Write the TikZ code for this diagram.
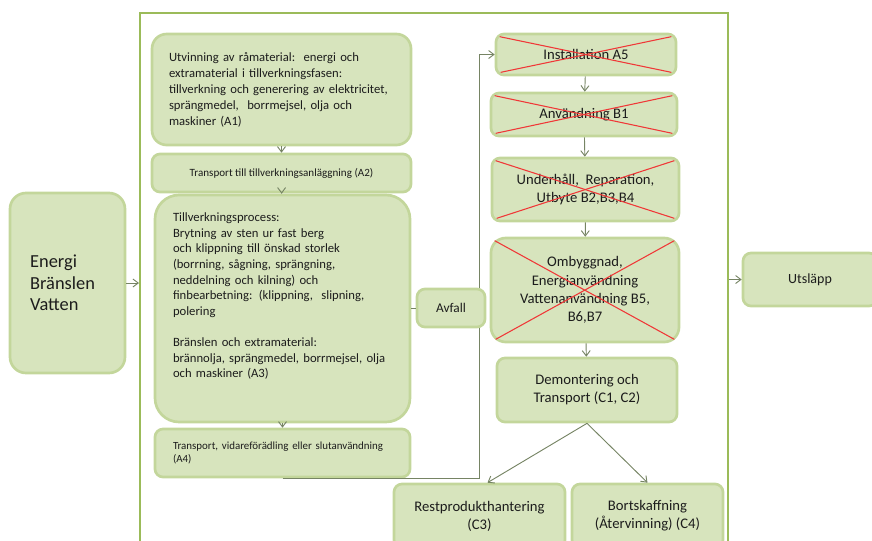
\documentclass[tikz,border=0pt]{standalone}
\usepackage{fontspec}
\setmainfont{Carlito}
\usetikzlibrary{arrows.meta}
\definecolor{boxfill}{RGB}{215,228,189}
\definecolor{boxline}{RGB}{195,214,155}
\definecolor{frameline}{RGB}{155,187,89}
\definecolor{flowline}{RGB}{118,132,100}
\definecolor{crossline}{RGB}{240,55,55}
\definecolor{ink}{RGB}{28,28,28}
\tikzset{every picture/.style={line width=0.75pt}}
\tikzset{
	stage/.style={draw=boxline, fill=boxfill, line width=2pt, rounded corners=6pt, text=ink, inner sep=0pt},
	flow/.style={draw=flowline, line width=0.7pt, -{Straight Barb[length=4pt,width=6pt]}},
	strike/.style={draw=crossline, line width=0.8pt}
}
\begin{document}
\begin{tikzpicture}[x=0.75pt,y=0.75pt,yscale=-1,xscale=1]
				\useasboundingbox (0,0) rectangle (872,540);
				\clip (0,0) rectangle (872,540);
				%Frame: life cycle
				\node[draw=frameline, line width=1.5pt, minimum width=441pt, minimum height=410.25pt] (lca) at (434,286.5) {};
				%Shape: Input
				\node[stage, rounded corners=12pt, minimum width=86.25pt, minimum height=135pt, text width=56pt, align=left, font=\fontsize{13.8}{16}\selectfont] (energi) at (67.5,283) {Energi\\Bränslen\\Vatten};
				%Shape: A1
				\node[stage, rounded corners=11pt, minimum width=194.25pt, minimum height=83.25pt, text width=168.75pt, align=left, font=\fontsize{9.5}{12}\selectfont] (utvinning) at (281.5,89.5) {Utvinning av råmaterial:\ \ energi och\\extramaterial i tillverkningsfasen:\\tillverkning och generering av elektricitet,\\sprängmedel,\ \ borrmejsel, olja och\\maskiner (A1)};
				%Shape: A2
				\node[stage, minimum width=194.25pt, minimum height=28.5pt, font=\fontsize{8.3}{10}\selectfont] (transport) at (281.5,173) {Transport till tillverkningsanläggning (A2)};
				%Shape: A3
				\node[stage, rounded corners=18pt, minimum width=191.25pt, minimum height=170.25pt, text width=164.25pt, align=left, font=\fontsize{9.5}{11.7}\selectfont] (tillverkning) at (282.5,308.5) {Tillverkningsprocess:\\Brytning av sten ur fast berg\\och klippning till önskad storlek\\(borrning, sågning, sprängning,\\neddelning och kilning) och\\finbearbetning: (klippning,\ \ slipning,\\polering\\[11.7pt]Bränslen och extramaterial:\\brännolja, sprängmedel, borrmejsel, olja\\och maskiner (A3)\\[8pt]\mbox{}};
				%Shape: A4
				\node[stage, minimum width=191.25pt, minimum height=36pt, text width=164.25pt, align=left, font=\fontsize{8.2}{10}\selectfont] (vidare) at (282.5,453) {Transport, vidareförädling eller slutanvändning\\(A4)};
				%Shape: A5 .. C2
				\node[stage, minimum width=135pt, minimum height=30.75pt, font=\fontsize{11}{13.5}\selectfont] (installation) at (586,54.5) {Installation A5};
				\node[stage, minimum width=139.5pt, minimum height=32.25pt, font=\fontsize{11}{13.5}\selectfont] (anvandning) at (584,114.5) {Användning B1};
				\node[stage, minimum width=140.25pt, minimum height=47.25pt, align=center, font=\fontsize{11}{13.5}\selectfont] (underhall) at (585.5,189.5) {Underhåll,\ \ Reparation,\\Utbyte B2,B3,B4};
				\node[stage, rounded corners=11pt, minimum width=141pt, minimum height=78pt, align=center, font=\fontsize{11}{13.7}\selectfont] (ombyggnad) at (585,290) {Ombyggnad,\\Energianvändning\\Vattenanvändning B5,\\B6,B7};
				\node[stage, minimum width=135pt, minimum height=48pt, align=center, font=\fontsize{11}{13.5}\selectfont] (demontering) at (587,390) {Demontering och\\Transport (C1, C2)};
				%Shape: C3, C4
				\node[stage, minimum width=128.25pt, minimum height=48pt, align=center, font=\fontsize{11}{13.5}\selectfont] (restprodukt) at (479.5,516) {Restprodukthantering\\(C3)};
				\node[stage, minimum width=113.25pt, minimum height=48pt, align=center, font=\fontsize{11}{13.5}\selectfont] (bortskaffning) at (647.5,516) {Bortskaffning\\(Återvinning) (C4)};
				%Shape: Output
				\node[stage, minimum width=100.5pt, minimum height=39.75pt, font=\fontsize{10.5}{13.5}\selectfont] (utslapp) at (810,279.5) {Utsläpp};
				%Straight Lines: A4 to A5
				\coordinate (trunk) at (479,0);
				\draw[flow] (vidare.south) -| (trunk |- installation.west) -- (installation.west);
				%Shape: Waste
				\node[stage, minimum width=51pt, minimum height=28.5pt, font=\fontsize{10}{12}\selectfont] (avfall) at (451,308) {Avfall};
				\draw[flowline, line width=0.7pt] (tillverkning.east |- avfall.west) -- (avfall.west);
				%Straight Lines: flow
				\draw[flow] (energi.east) -- (energi.east -| lca.west);
				\draw[flow] (utslapp.west -| lca.east) -- (utslapp.west);
				\draw[flow] (utvinning) -- (transport);
				\draw[flow] (transport) -- (tillverkning);
				\draw[flow] (tillverkning) -- (vidare);
				\draw[flow] (installation) -- (anvandning);
				\draw[flow] (anvandning) -- (underhall);
				\draw[flow] (underhall) -- (ombyggnad);
				\draw[flow] (ombyggnad) -- (demontering);
				\draw[flow] (demontering.south) -- ([xshift=6]restprodukt.north);
				\draw[flow] (demontering.south) -- (bortskaffning.north);
				%Straight Lines: crossed out
				\foreach \stage in {installation,anvandning,underhall,ombyggnad}{
					\draw[strike] ([shift={(5,4)}]\stage.north west) -- ([shift={(-6,-4)}]\stage.south east);
					\draw[strike] ([shift={(6,-4)}]\stage.south west) -- ([shift={(-6,4)}]\stage.north east);
				}
\end{tikzpicture}
\end{document}
